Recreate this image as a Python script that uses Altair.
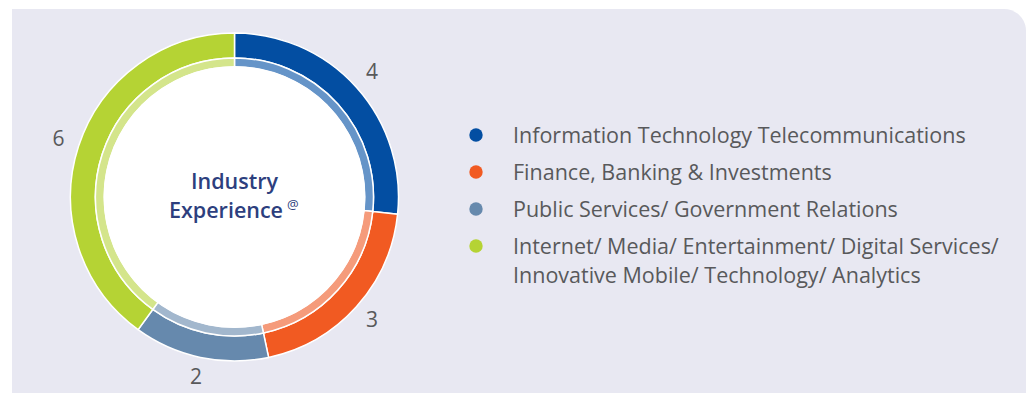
import math
import altair as alt
import pandas as pd

# ---- data ----
categories = [
    "Information Technology Telecommunications",
    "Finance, Banking & Investments",
    "Public Services/ Government Relations",
    "Internet/ Media/ Entertainment/ Digital Services/\nInnovative Mobile/ Technology/ Analytics",
]
counts = [4, 3, 2, 6]
order_idx = [0, 1, 2, 3]
dark_colors = ["#034ea2", "#f15a22", "#6689ad", "#b5d334"]
light_colors = ["#6594c8", "#f59b7b", "#a2b7cd", "#d4e58b"]
center_title = ["Industry", "Experience"]

df = pd.DataFrame({
    "cat": categories,
    "count": counts,
    "ord": order_idx,
    "dark": dark_colors,
    "light": light_colors,
})
one = pd.DataFrame({"k": [0]})

CX, CY = 226.5, 189
TEXT_GREY = "#58595b"
NAVY = "#2d3f7e"
FONT = "Open Sans"

theta = alt.Theta("count:Q", stack=True)
order = alt.Order("ord:Q")

bg = alt.Chart(one).mark_rect(color="#e8e8f2", cornerRadiusTopRight=22).encode(
    x=alt.value(4), x2=alt.value(1018), y=alt.value(1), y2=alt.value(385)
)

white_disc = alt.Chart(one).mark_arc(
    radius=131, radius2=0, theta=0, theta2=2 * math.pi, color="white"
).encode(x=alt.value(CX), y=alt.value(CY))

outer = alt.Chart(df).mark_arc(radius=164, radius2=139, stroke="white", strokeWidth=1.5).encode(
    theta=theta, order=order, color=alt.Color("dark:N", scale=None),
    x=alt.value(CX), y=alt.value(CY),
)
inner = alt.Chart(df).mark_arc(radius=139, radius2=130, stroke="white", strokeWidth=1.5).encode(
    theta=theta, order=order, color=alt.Color("light:N", scale=None),
    x=alt.value(CX), y=alt.value(CY),
)
labels = alt.Chart(df).mark_text(radius=185, fontSize=21, color=TEXT_GREY, font=FONT).encode(
    theta=theta, order=order, text="count:Q",
    x=alt.value(CX), y=alt.value(CY),
)

title1 = alt.Chart(one).mark_text(
    text=center_title[0], fontSize=21.5, fontWeight=600, color=NAVY, font=FONT
).encode(x=alt.value(CX), y=alt.value(175))
title2 = alt.Chart(one).mark_text(
    text=center_title[1], fontSize=21.5, fontWeight=600, color=NAVY, font=FONT
).encode(x=alt.value(CX - 8.5), y=alt.value(204))
at_sign = alt.Chart(one).mark_text(
    text="@", fontSize=13, color=NAVY, font=FONT, align="left"
).encode(x=alt.value(CX + 52.5), y=alt.value(197))

yscale = alt.Scale(domain=[0, 3], range=[127, 238])
dots = alt.Chart(df).mark_circle(size=180, opacity=1).encode(
    x=alt.value(468), y=alt.Y("ord:Q", scale=yscale, axis=None),
    color=alt.Color("dark:N", scale=None),
)
leg_text = alt.Chart(df).mark_text(
    align="left", baseline="alphabetic", dy=7.5, lineBreak="\n", lineHeight=29,
    fontSize=21.5, color=TEXT_GREY, font=FONT,
).encode(
    x=alt.value(505), y=alt.Y("ord:Q", scale=yscale, axis=None), text="cat:N"
)

chart = alt.layer(
    bg, outer, inner, white_disc, labels, title1, title2, at_sign, dots, leg_text
).properties(
    width=1018, height=385, autosize="none", padding=0
).configure_view(stroke=None)

chart.save("out.html", embed_options={"renderer": "svg", "actions": False})
